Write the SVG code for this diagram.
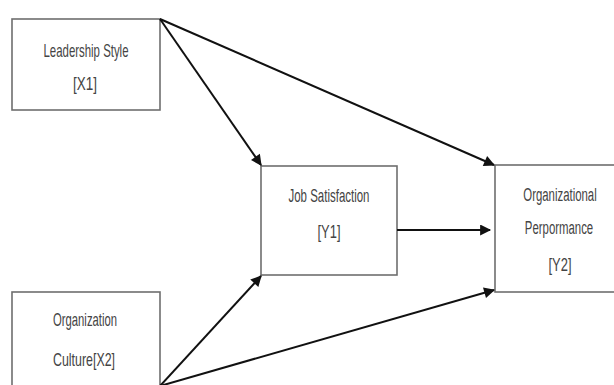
<svg xmlns="http://www.w3.org/2000/svg" width="614" height="385" viewBox="0 0 614 385">
<style>
.box{fill:#fff;stroke:#6e6e6e;stroke-width:1.6}
.t{font-family:"Liberation Sans",Arial,sans-serif;font-size:19px;fill:#444;text-anchor:middle}
.c{stroke:#111;stroke-width:2;fill:none;marker-end:url(#ah)}
</style>
<defs>
<marker id="ah" viewBox="0 0 10 10" refX="9" refY="5" markerWidth="12" markerHeight="11" markerUnits="userSpaceOnUse" orient="auto">
<path d="M0,0 L10,5 L0,10 z" fill="#111"/>
</marker>
</defs>
<rect width="614" height="385" fill="#fff"/>
<g id="x1">
<rect class="box" x="12" y="19" width="148" height="91"/>
<text class="t" x="86" y="57" textLength="85" lengthAdjust="spacingAndGlyphs">Leadership Style</text>
<text class="t" x="85" y="90" textLength="24" lengthAdjust="spacingAndGlyphs" font-size="21">[X1]</text>
</g>
<g id="x2">
<rect class="box" x="12" y="292" width="148" height="100"/>
<text class="t" x="85" y="326" textLength="64" lengthAdjust="spacingAndGlyphs">Organization</text>
<text class="t" x="84" y="366" textLength="62" lengthAdjust="spacingAndGlyphs">Culture[X2]</text>
</g>
<g id="y1">
<rect class="box" x="261" y="166" width="136" height="109"/>
<text class="t" x="329" y="202" textLength="81" lengthAdjust="spacingAndGlyphs">Job Satisfaction</text>
<text class="t" x="329" y="238" textLength="23" lengthAdjust="spacingAndGlyphs" font-size="21">[Y1]</text>
</g>
<g id="y2">
<rect class="box" x="495" y="165" width="125" height="127"/>
<text class="t" transform="translate(560,201) scale(0.6,1)">Organizational</text>
<text class="t" transform="translate(559,234) scale(0.6,1)">Perpormance</text>
<text class="t" x="560" y="271" textLength="23" lengthAdjust="spacingAndGlyphs" font-size="21">[Y2]</text>
</g>
<g id="connectors">
<line class="c" x1="160" y1="19" x2="261" y2="165"/>
<line class="c" x1="160" y1="19" x2="494" y2="165"/>
<line class="c" x1="397" y1="230" x2="490" y2="230"/>
<line class="c" x1="160" y1="386" x2="261" y2="276"/>
<line class="c" x1="160" y1="386" x2="494" y2="290"/>
</g>
</svg>
